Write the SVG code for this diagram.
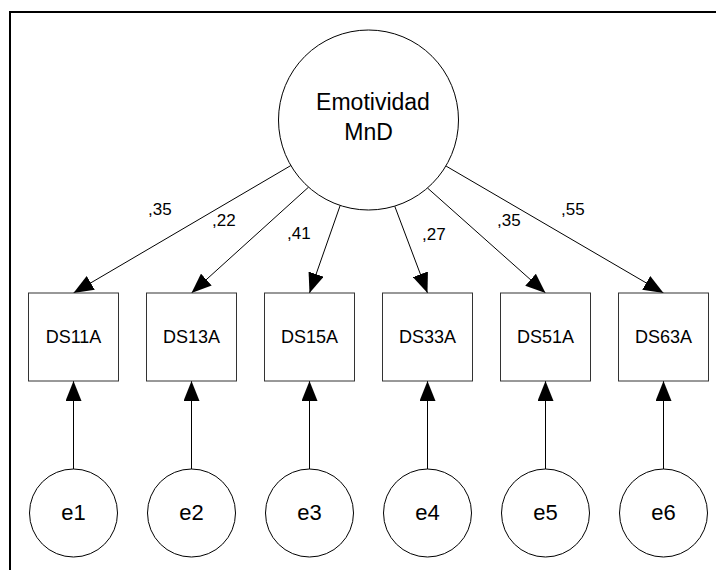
<svg xmlns="http://www.w3.org/2000/svg" width="716" height="570" viewBox="0 0 716 570">
<style>
  .frame { fill: none; stroke: #000; stroke-width: 2; }
  .latent { fill: #fff; stroke: #000; stroke-width: 1; }
  .obs { fill: #fff; stroke: #333; stroke-width: 1; }
  .t { font-family: "Liberation Sans", Arial, sans-serif; fill: #000; text-anchor: middle; }
  .big { font-size: 23px; }
  .mid { font-size: 18px; }
  .err { font-size: 22px; }
  .lbl { font-family: "Liberation Sans", Arial, sans-serif; font-size: 17px; fill: #000; }
  .conn line { stroke: #000; stroke-width: 1; marker-end: url(#ah); }
</style>
<defs>
  <marker id="ah" markerUnits="userSpaceOnUse" markerWidth="20" markerHeight="16" refX="20" refY="8" orient="auto">
    <path d="M0,0 L20,8 L0,16 z" fill="#000"/>
  </marker>
</defs>
<rect width="716" height="570" fill="#fff"/>
<rect class="frame" x="10" y="12" width="720" height="580"/>

<g class="conn" id="connectors">
  <line x1="290.9" y1="165.5" x2="73.5" y2="293"/>
  <line x1="308.6" y1="187.1" x2="191.5" y2="293"/>
  <line x1="340.2" y1="205.4" x2="309.5" y2="293"/>
  <line x1="394.7" y1="206.1" x2="427.5" y2="293"/>
  <line x1="427.5" y1="188.0" x2="545.5" y2="293"/>
  <line x1="446.1" y1="166.1" x2="663.5" y2="293"/>
  <line x1="73.5" y1="469" x2="73.5" y2="381"/>
  <line x1="191.5" y1="469" x2="191.5" y2="381"/>
  <line x1="309.5" y1="469" x2="309.5" y2="381"/>
  <line x1="427.5" y1="469" x2="427.5" y2="381"/>
  <line x1="545.5" y1="469" x2="545.5" y2="381"/>
  <line x1="663.5" y1="469" x2="663.5" y2="381"/>
</g>

<g id="labels">
  <text class="lbl" x="148" y="215">,35</text>
  <text class="lbl" x="212" y="226">,22</text>
  <text class="lbl" x="287" y="239">,41</text>
  <text class="lbl" x="422" y="240">,27</text>
  <text class="lbl" x="497" y="226">,35</text>
  <text class="lbl" x="561" y="215">,55</text>
</g>

<g id="emotividad">
  <circle class="latent" cx="368.5" cy="120" r="90"/>
  <text class="t big" x="373" y="110">Emotividad</text>
  <text class="t big" x="368.5" y="140">MnD</text>
</g>

<g id="DS11A"><rect class="obs" x="28.5" y="293" width="90" height="88"/><text class="t mid" x="73.5" y="343">DS11A</text></g>
<g id="DS13A"><rect class="obs" x="146.5" y="293" width="90" height="88"/><text class="t mid" x="191.5" y="343">DS13A</text></g>
<g id="DS15A"><rect class="obs" x="264.5" y="293" width="90" height="88"/><text class="t mid" x="309.5" y="343">DS15A</text></g>
<g id="DS33A"><rect class="obs" x="382.5" y="293" width="90" height="88"/><text class="t mid" x="427.5" y="343">DS33A</text></g>
<g id="DS51A"><rect class="obs" x="500.5" y="293" width="90" height="88"/><text class="t mid" x="545.5" y="343">DS51A</text></g>
<g id="DS63A"><rect class="obs" x="618.5" y="293" width="90" height="88"/><text class="t mid" x="663.5" y="343">DS63A</text></g>

<g id="e1"><circle class="latent" cx="73.5" cy="513" r="44"/><text class="t err" x="73.5" y="520">e1</text></g>
<g id="e2"><circle class="latent" cx="191.5" cy="513" r="44"/><text class="t err" x="191.5" y="520">e2</text></g>
<g id="e3"><circle class="latent" cx="309.5" cy="513" r="44"/><text class="t err" x="309.5" y="520">e3</text></g>
<g id="e4"><circle class="latent" cx="427.5" cy="513" r="44"/><text class="t err" x="427.5" y="520">e4</text></g>
<g id="e5"><circle class="latent" cx="545.5" cy="513" r="44"/><text class="t err" x="545.5" y="520">e5</text></g>
<g id="e6"><circle class="latent" cx="663.5" cy="513" r="44"/><text class="t err" x="663.5" y="520">e6</text></g>
</svg>
